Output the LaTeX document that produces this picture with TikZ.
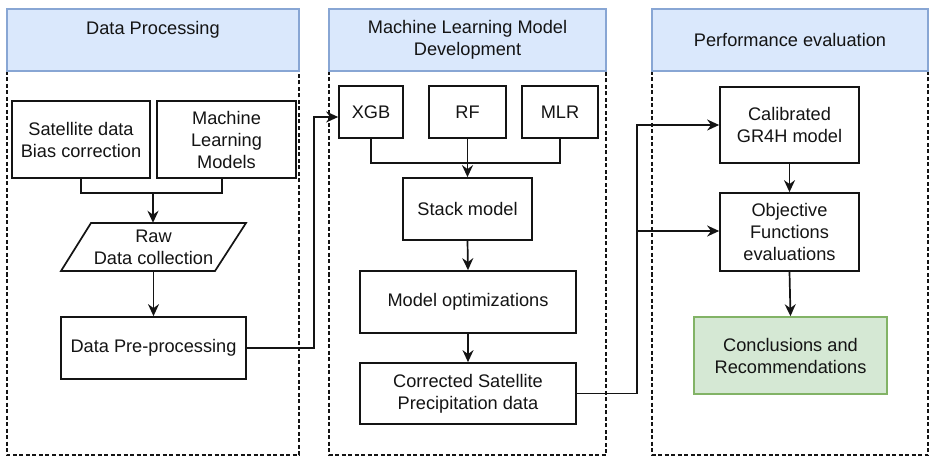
\documentclass[tikz,border=0pt]{standalone}
\usepackage{fontspec}
\setmainfont{Liberation Sans}
\usetikzlibrary{arrows.meta}

\definecolor{hdrfill}{HTML}{DAE8FC}
\definecolor{hdrline}{HTML}{88A6D4}
\definecolor{grnfill}{HTML}{D5E8D4}
\definecolor{grnline}{HTML}{82B366}
\definecolor{ink}{HTML}{141414}

\tikzset{
  txt/.style={font=\fontsize{18.2}{22}\selectfont, text=ink, align=center, inner sep=0pt},
  box/.style={txt, draw=ink, line width=1.7pt, fill=white},
  hdr/.style={txt, draw=hdrline, fill=hdrfill, line width=1.4pt},
  lane/.style={draw=ink, line width=1.5pt, dash pattern=on 4pt off 2.5pt},
  wire/.style={draw=ink, line width=1.7pt},
  arr/.style={wire, -{Stealth[length=12pt,width=11pt]}},
}

\begin{document}
\begin{tikzpicture}[x=1pt,y=-1pt]
\useasboundingbox (0,0) rectangle (929,457);

% --- lanes: dashed bodies and blue headers
\draw[lane] (7,71) -- (7,455) -- (299,455) -- (299,71);
\draw[lane] (329,71) -- (329,455) -- (606,455) -- (606,71);
\draw[lane] (652,71) -- (652,455) -- (928,455) -- (928,71);

\node[hdr, minimum width=292, minimum height=62] (hA) at (153,40) {};
\node[txt] (hAt) at (153,30) {Data Processing};
\node[hdr, minimum width=277, minimum height=62] (hB) at (467.5,40) {Machine Learning Model\\Development};
\node[hdr, minimum width=276, minimum height=62] (hC) at (790,40) {Performance evaluation};

% --- Data processing
\node[box, minimum width=138, minimum height=77] (sat) at (81,139.5) {Satellite data\\Bias correction};
\node[box, minimum width=139, minimum height=77] (mlm) at (226.5,139.5) {Machine\\Learning\\Models};
\draw[wire, fill=white] (91,223) -- (246,223) -- (215,271) -- (61,271) -- cycle;
\node[txt, minimum width=155, minimum height=48] (raw) at (153.5,247) {Raw\\Data collection};
\node[box, minimum width=185, minimum height=62] (pre) at (153.5,348) {Data Pre-processing};

\coordinate (jA) at (153,193);
\draw[wire] (sat.south) -- (sat.south |- jA) -- (222,193) -- (222,178);
\draw[arr] (jA) -- (jA |- raw.north);
\draw[arr] (raw.south) -- (pre.north);

% --- Machine learning model development
\node[box, minimum width=64, minimum height=52] (xgb) at (371,112) {XGB};
\node[box, minimum width=77, minimum height=52] (rf) at (467.5,112) {RF};
\node[box, minimum width=76, minimum height=52] (mlr) at (560,112) {MLR};
\node[box, minimum width=129, minimum height=62] (stack) at (467.5,209) {Stack model};
\node[box, minimum width=216, minimum height=62] (opt) at (468,302) {Model optimizations};
\node[box, minimum width=216, minimum height=61] (corr) at (468,393.5) {Corrected Satellite\\Precipitation data};

\coordinate (jB) at (467.5,163);
\draw[wire] (xgb.south) -- (xgb.south |- jB) -- (mlr.south |- jB) -- (mlr.south);
\draw[arr] (rf.south) -- (stack.north);
\draw[arr] (stack.south) -- (opt.north);
\draw[arr] (opt.south) -- (corr.north);

% --- Performance evaluation
\node[box, minimum width=139, minimum height=76] (cal) at (789.5,125) {Calibrated\\GR4H model};
\node[box, minimum width=139, minimum height=78] (obj) at (789.5,232) {Objective\\Functions\\evaluations};
\node[txt, draw=grnline, fill=grnfill, line width=1.6pt, minimum width=193, minimum height=77] (conc) at (790.5,355.5) {Conclusions and\\Recommendations};

\draw[arr] (cal.south) -- (obj.north);
\draw[arr] (obj.south) -- (conc.north);

% --- links between lanes
\coordinate (j1) at (314,117);
\draw[arr] (pre.east) -| (j1) -- (j1 -| xgb.west);

\coordinate (j2) at (637,125);
\coordinate (j3) at (637,231);
\draw[arr] (corr.east) -| (j2) -- (cal.west);
\draw[arr] (j3) -- (j3 -| obj.west);
\end{tikzpicture}
\end{document}
